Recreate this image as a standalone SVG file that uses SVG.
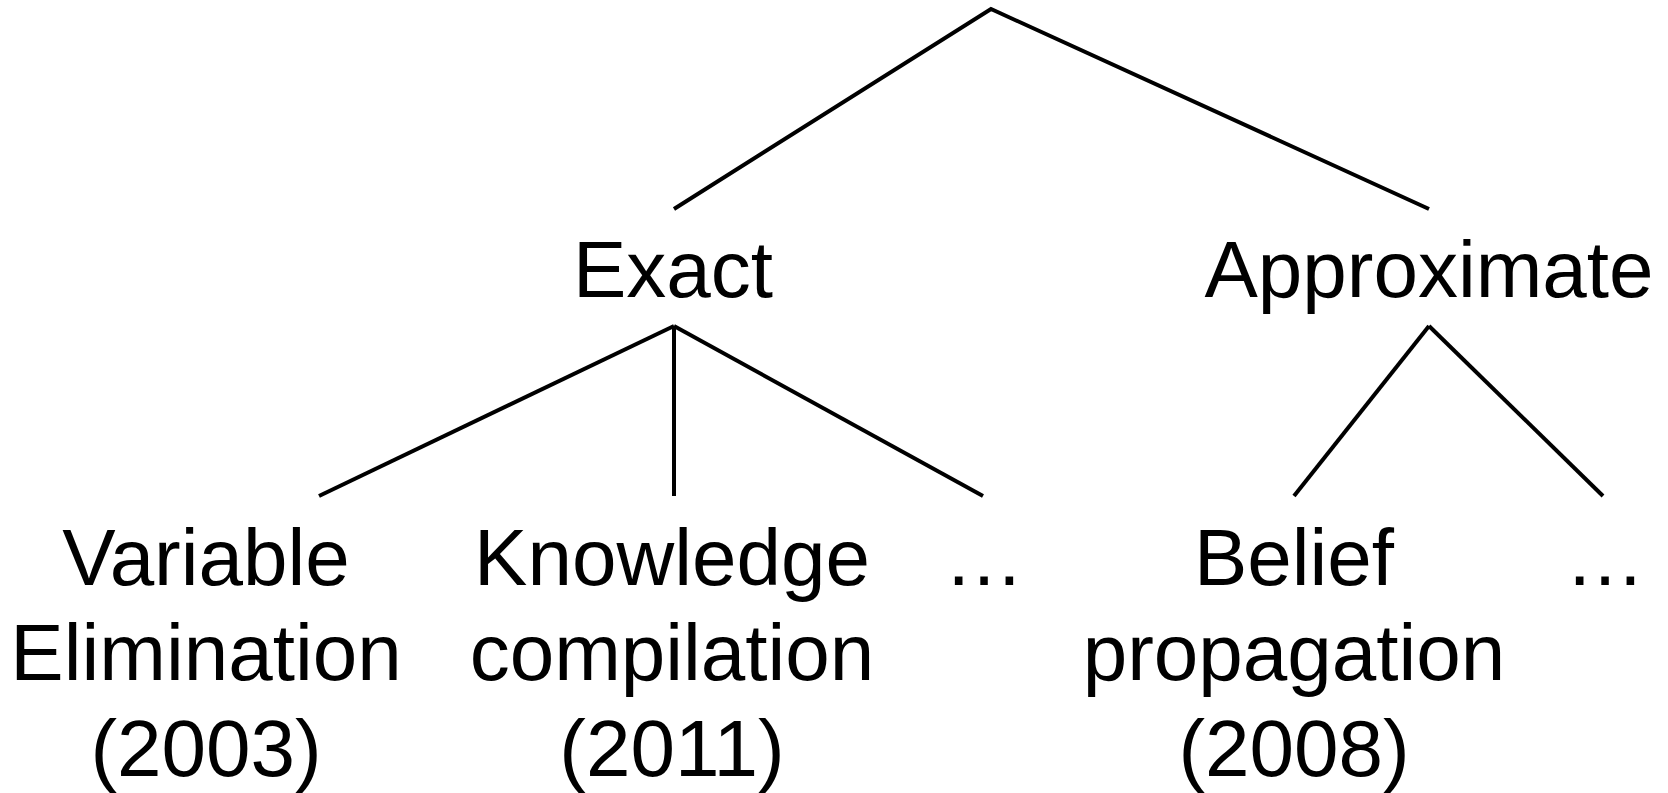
<svg xmlns="http://www.w3.org/2000/svg" width="1668" height="793" viewBox="0 0 1668 793">
  <style>
    .lbl { font-family: "Liberation Sans", Arial, sans-serif; font-size: 80px; fill: #000; text-anchor: middle; }
    .edge { stroke: #000; stroke-width: 4; fill: none; stroke-linecap: butt; }
  </style>
  <rect width="1668" height="793" fill="#fff"/>

  <!-- tree edges -->
  <g id="connectors">
    <polyline class="edge" points="674,209 991,9 1429,209"/>
    <line class="edge" x1="674" y1="326" x2="319" y2="496"/>
    <line class="edge" x1="674" y1="326" x2="674" y2="496"/>
    <line class="edge" x1="674" y1="326" x2="983" y2="496"/>
    <line class="edge" x1="1429" y1="326" x2="1294" y2="496"/>
    <line class="edge" x1="1429" y1="326" x2="1603" y2="496"/>
  </g>

  <g id="exact">
    <text class="lbl" x="673" y="297">Exact</text>
  </g>
  <g id="approximate">
    <text class="lbl" x="1429" y="297">Approximate</text>
  </g>

  <g id="variable-elimination">
    <text class="lbl" x="206" y="585">Variable</text>
    <text class="lbl" x="206" y="680">Elimination</text>
    <text class="lbl" x="206" y="776">(2003)</text>
  </g>
  <g id="knowledge-compilation">
    <text class="lbl" x="672" y="585">Knowledge</text>
    <text class="lbl" x="672" y="680">compilation</text>
    <text class="lbl" x="672" y="776">(2011)</text>
  </g>
  <g id="exact-more">
    <text class="lbl" x="984" y="585">…</text>
  </g>
  <g id="belief-propagation">
    <text class="lbl" x="1294" y="585">Belief</text>
    <text class="lbl" x="1294" y="680">propagation</text>
    <text class="lbl" x="1294" y="776">(2008)</text>
  </g>
  <g id="approximate-more">
    <text class="lbl" x="1605" y="585">…</text>
  </g>
</svg>
